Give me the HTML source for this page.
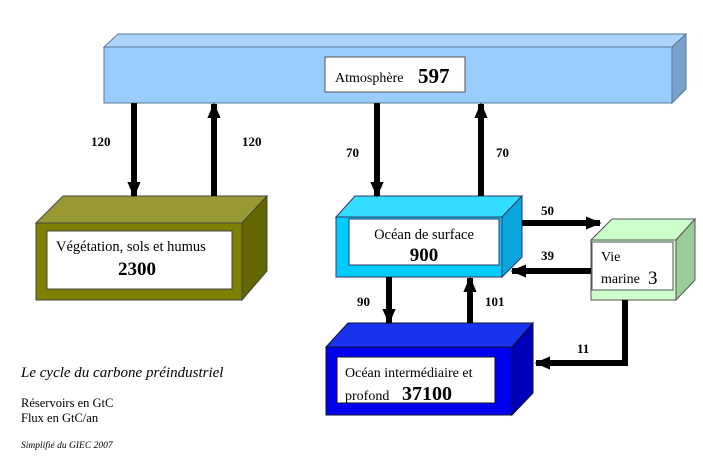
<!DOCTYPE html>
<html><head><meta charset="utf-8"><style>
html,body{margin:0;padding:0;background:#fff;}
svg{display:block;}
text{font-family:"Liberation Serif",serif;}
</style></head><body>
<svg width="703" height="468" viewBox="0 0 703 468" xmlns="http://www.w3.org/2000/svg">
<defs>
<marker id="ah" viewBox="0 0 10 10" refX="9" refY="5" markerWidth="2.6" markerHeight="2.2" orient="auto" markerUnits="strokeWidth" preserveAspectRatio="none"><path d="M0,0 L10,5 L0,10 z" fill="#000"/></marker>
</defs>
<polygon points="104,47 118,34 686,34 672,47" fill="#acd4fb" stroke="#5a7a9a" stroke-width="1"/>
<polygon points="672,47 686,34 686,89 672,103" fill="#7aa0cc" stroke="#5a7a9a" stroke-width="1"/>
<rect x="104" y="47" width="568" height="56" fill="#99ccff" stroke="#5a7a9a" stroke-width="1"/>
<rect x="325" y="57" width="140" height="35" fill="#fff" stroke="#555" stroke-width="1"/>
<text x="335" y="82" font-size="14">Atmosphère</text>
<text x="418" y="83" font-size="21" font-weight="bold">597</text>
<polygon points="36,223 63,196 267,196 242,223" fill="#999933" stroke="#444" stroke-width="1"/>
<polygon points="242,223 267,196 267,271 242,300" fill="#666600" stroke="#444" stroke-width="1"/>
<rect x="36" y="223" width="206" height="77" fill="#808000" stroke="#444" stroke-width="1"/>
<rect x="47" y="231" width="185" height="58" fill="#fff" stroke="#444" stroke-width="1"/>
<text x="56" y="251" font-size="14.5">Végétation, sols et humus</text>
<text x="118" y="275" font-size="19" font-weight="bold">2300</text>
<polygon points="336,217 355,196 522,196 502,217" fill="#33ddff" stroke="#336" stroke-width="1"/>
<polygon points="502,217 522,196 522,257 502,277" fill="#0aa8dd" stroke="#336" stroke-width="1"/>
<rect x="336" y="217" width="166" height="60" fill="#00ccff" stroke="#336" stroke-width="1"/>
<rect x="349" y="219" width="150" height="46" fill="#fff" stroke="#336" stroke-width="1"/>
<text x="424" y="239" font-size="14.5" text-anchor="middle">Océan de surface</text>
<text x="424" y="261" font-size="19" font-weight="bold" text-anchor="middle">900</text>
<polygon points="591,240 612,219 695,219 676,240" fill="#ccffcc" stroke="#555" stroke-width="1"/>
<polygon points="676,240 695,219 695,280 676,300" fill="#99cc99" stroke="#555" stroke-width="1"/>
<rect x="591" y="240" width="85" height="60" fill="#ccffcc" stroke="#555" stroke-width="1"/>
<rect x="592" y="242" width="81" height="48" fill="#fff" stroke="#555" stroke-width="1"/>
<text x="601" y="261" font-size="14">Vie</text>
<text x="601" y="283" font-size="14">marine</text>
<text x="648" y="284" font-size="19">3</text>
<polygon points="326,347 348,323 533,323 512,347" fill="#1a33ee" stroke="#113" stroke-width="1"/>
<polygon points="512,347 533,323 533,393 512,415" fill="#0000bb" stroke="#113" stroke-width="1"/>
<rect x="326" y="347" width="186" height="68" fill="#0000ee" stroke="#113" stroke-width="1"/>
<rect x="337" y="357" width="158" height="46" fill="#fff" stroke="#113" stroke-width="1"/>
<text x="345" y="377" font-size="14">Océan intermédiaire et</text>
<text x="345" y="400" font-size="14">profond</text>
<text x="402" y="400" font-size="20" font-weight="bold">37100</text>
<g stroke="#000" stroke-width="6" fill="none" marker-end="url(#ah)">
<line x1="134" y1="103" x2="134" y2="196"/>
<line x1="214" y1="196" x2="214" y2="104"/>
<line x1="377" y1="103" x2="377" y2="196"/>
<line x1="481" y1="196" x2="481" y2="104"/>
<line x1="389" y1="277" x2="389" y2="323"/>
<line x1="470" y1="323" x2="470" y2="278"/>
<line x1="522" y1="223" x2="600" y2="223"/>
<line x1="591" y1="271" x2="512" y2="271"/>
<polyline points="625,300 625,363 536,363"/>
</g>
<g font-size="13" font-weight="bold">
<text x="91" y="146">120</text>
<text x="242" y="146">120</text>
<text x="346" y="157">70</text>
<text x="496" y="157">70</text>
<text x="541" y="215">50</text>
<text x="541" y="260">39</text>
<text x="357" y="306">90</text>
<text x="485" y="306">101</text>
<text x="577" y="353">11</text>
</g>
<text x="21" y="377" font-size="15" font-style="italic">Le cycle du carbone préindustriel</text>
<text x="21" y="407" font-size="12.5">Réservoirs en GtC</text>
<text x="21" y="422" font-size="12.5">Flux en GtC/an</text>
<text x="21" y="448" font-size="9.5" font-style="italic">Simplifié du GIEC 2007</text>
</svg>
</body></html>
